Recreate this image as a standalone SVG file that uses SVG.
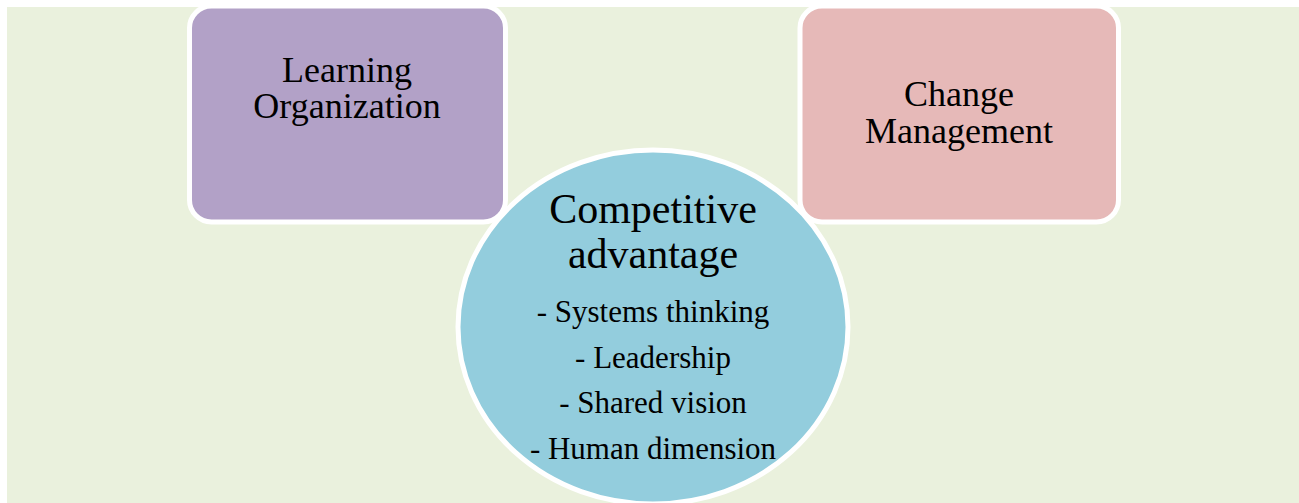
<svg xmlns="http://www.w3.org/2000/svg" width="1299" height="503" viewBox="0 0 1299 503">
<style>
.box{stroke:#ffffff;stroke-width:5}
.t{font-family:"Liberation Serif","Times New Roman",serif;fill:#000000;text-anchor:middle}
.big{font-size:36px}
.cbig{font-size:42px}
.item{font-size:31px}
</style>
<rect x="0" y="0" width="1299" height="503" fill="#ffffff"/>
<rect x="7" y="7" width="1292" height="496" fill="#EAF1DD"/>
<g id="learning-organization">
<rect class="box" x="189.5" y="6" width="316" height="216" rx="22" fill="#B2A1C7"/>
<text class="t big" x="347" y="82">Learning</text>
<text class="t big" x="347" y="118">Organization</text>
</g>
<g id="change-management">
<rect class="box" x="800" y="6" width="318.5" height="216" rx="22" fill="#E6B9B8"/>
<text class="t big" x="959" y="106">Change</text>
<text class="t big" x="959" y="143">Management</text>
</g>
<g id="connectors"></g>
<g id="competitive-advantage">
<ellipse class="box" cx="653" cy="327" rx="195" ry="177" fill="#93CDDD"/>
<text class="t cbig" x="653" y="223">Competitive</text>
<text class="t cbig" x="653" y="268">advantage</text>
<text class="t item" x="653" y="322">- Systems thinking</text>
<text class="t item" x="653" y="368">- Leadership</text>
<text class="t item" x="653" y="413">- Shared vision</text>
<text class="t item" x="653" y="459">- Human dimension</text>
</g>
</svg>
